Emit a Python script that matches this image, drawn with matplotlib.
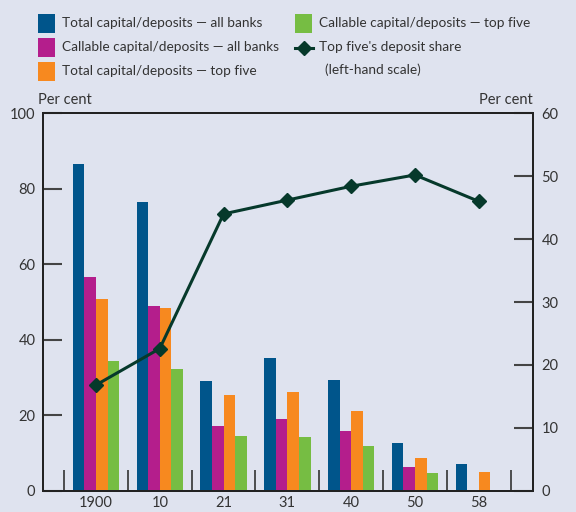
import matplotlib
matplotlib.use("Agg")
import matplotlib.pyplot as plt
from matplotlib.patches import Rectangle
from matplotlib.lines import Line2D
import numpy as np

plt.rcParams['font.family'] = ['Lato', 'DejaVu Sans']

categories = ["1900", "10", "21", "31", "40", "50", "58"]
total_all = [86.6, 76.5, 29.1, 35.2, 29.3, 12.6, 7.1]
callable_all = [56.6, 48.9, 17.1, 19.0, 15.8, 6.3, 0]
total_top5 = [50.8, 48.4, 25.3, 26.1, 21.1, 8.7, 5.0]
callable_top5 = [34.3, 32.2, 14.5, 14.2, 11.8, 4.7, 0]
deposit_share = [16.8, 22.6, 44.0, 46.2, 48.4, 50.2, 46.0]

series = [
    ("Total capital/deposits \u2014 all banks", total_all, "#00558b"),
    ("Callable capital/deposits \u2014 all banks", callable_all, "#b41e8c"),
    ("Total capital/deposits \u2014 top five", total_top5, "#f7891f"),
    ("Callable capital/deposits \u2014 top five", callable_top5, "#76bd43"),
]
line_color = "#06392b"
bg = "#dfe3ef"
txt = "#333333"
fs = 10.5
lfs = 9.8

fig = plt.figure(figsize=(5.76, 5.12), dpi=100)
fig.patch.set_facecolor(bg)
W, H = 576, 512
ax = fig.add_axes([43 / W, 1 - 490.7 / H, (533 - 43) / W, (490.7 - 113.3) / H])
ax.set_facecolor(bg)

x = np.arange(len(categories))
w = 0.182
offs = [-1.5, -0.5, 0.5, 1.5]
for (lab, vals, col), o in zip(series, offs):
    ax.bar(x + o * w, vals, width=w, color=col, linewidth=0, zorder=2)

ax.set_xlim(-0.83, 6.85)
ax.set_ylim(0, 100)
ax.set_yticks([0, 20, 40, 60, 80, 100])
ax.set_xticks(x)
ax.set_xticklabels(categories)
ax.set_xticks(np.arange(-0.5, 7, 1), minor=True)
ax.tick_params(axis='x', which='major', length=0, pad=4, labelsize=fs, labelcolor=txt)
ax.tick_params(axis='x', which='minor', direction='in', length=15, width=1.2, color='#333333')
ax.tick_params(axis='y', direction='in', length=14, width=1.5, color='#444444', labelsize=fs, labelcolor=txt, pad=5.5)

ax2 = ax.twinx()
ax2.set_ylim(0, 60)
ax2.set_yticks([0, 10, 20, 30, 40, 50, 60])
ax2.tick_params(axis='y', direction='in', length=14, width=1.5, color='#444444', labelsize=fs, labelcolor=txt, pad=6)
ax2.plot(x, deposit_share, color=line_color, lw=2.2, marker='D', markersize=7.5, zorder=3)

for a in (ax, ax2):
    for s in a.spines.values():
        s.set_color('#222222')
        s.set_linewidth(1.4)
ax.spines['left'].set_color('#555555')

fig.text(38 / W, 1 - 100 / H, "Per cent", ha='left', va='center', fontsize=fs, color=txt)
fig.text(533 / W, 1 - 100 / H, "Per cent", ha='right', va='center', fontsize=fs, color=txt)

# Legend
rows = [(38, 23), (38, 47), (38, 71), (295, 23)]
for (lab, vals, col), (lx, ly) in zip(series, rows):
    fig.patches.append(Rectangle((lx / W, 1 - (ly + 9.5) / H), 17 / W, 19 / H,
                                 transform=fig.transFigure, facecolor=col, edgecolor='none'))
    fig.text((lx + 24) / W, 1 - ly / H, lab, ha='left', va='center', fontsize=lfs, color=txt)
fig.lines.append(Line2D([295 / W, 313 / W], [1 - 48 / H, 1 - 48 / H], transform=fig.transFigure,
                        color=line_color, lw=2.2))
fig.lines.append(Line2D([304 / W], [1 - 48 / H], transform=fig.transFigure,
                        color=line_color, marker='D', markersize=7.5, lw=0))
fig.text(319 / W, 1 - 47 / H, "Top five's deposit share", ha='left', va='center', fontsize=lfs, color=txt)
fig.text(325 / W, 1 - 70 / H, "(left-hand scale)", ha='left', va='center', fontsize=lfs, color=txt)

fig.savefig("out.png", dpi=100, facecolor=bg)
